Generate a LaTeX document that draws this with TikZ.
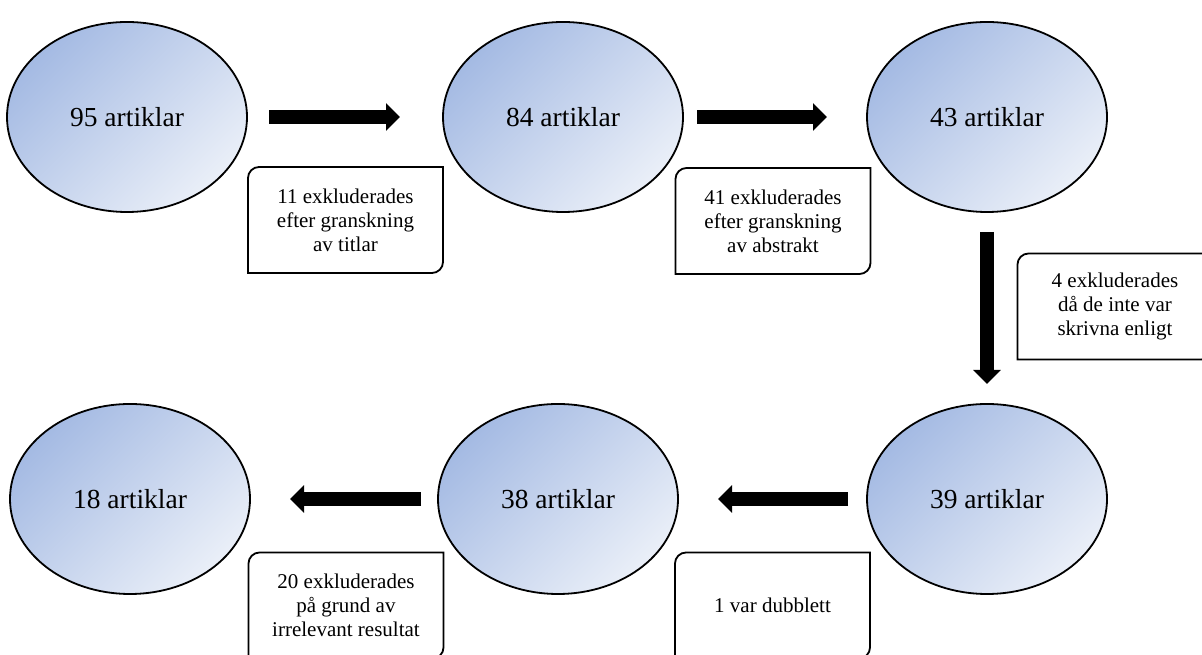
\documentclass[tikz,border=0pt]{standalone}
\usepackage{xcolor}
\usepackage{fontspec}
\setmainfont{Liberation Serif}
\usepackage{tikz}
\usetikzlibrary{arrows.meta, shapes.geometric}
\definecolor{ovaltop}{HTML}{A4BAE3}
\definecolor{ovalbot}{HTML}{EAEFF8}
\definecolor{inkline}{HTML}{000000}

\newcommand{\diagframe}[1]{%
  \draw[frameline] (#1.north east) -- ([yshift=11pt]#1.south east)
    arc[start angle=0, end angle=-90, radius=11pt] -- (#1.south west)
    -- ([yshift=-11pt]#1.north west)
    arc[start angle=180, end angle=90, radius=11pt] -- cycle;}

\begin{document}
\begin{tikzpicture}[
    x=1pt, y=1pt,
    oval/.style={ellipse, draw=inkline, line width=1.8pt, inner sep=0pt, outer sep=0pt,
                 minimum width=240pt, minimum height=190pt,
                 top color=ovaltop, bottom color=ovalbot, shading angle=45,
                 font=\fontsize{27.5}{30}\selectfont},
    excl/.style={inner sep=0pt, outer sep=0pt, align=center,
                 minimum width=195pt, minimum height=106pt,
                 font=\fontsize{21}{24}\selectfont},
    frameline/.style={draw=inkline, line width=1.8pt},
    blockarr/.style={-{Triangle[length=14pt, width=27pt]}, line width=14pt, inkline}
  ]
    \useasboundingbox (0,0) rectangle (1202,655);
    \clip (0,0) rectangle (1202,655);
    \node[oval] (e95) at (127,538) {95 artiklar};
    \node[oval] (e84) at (563,538) {84 artiklar};
    \node[oval] (e43) at (987,538) {43 artiklar};
    \node[oval] (e39) at (987,156) {39 artiklar};
    \node[oval] (e38) at (558,156) {38 artiklar};
    \node[oval] (e18) at (130,156) {18 artiklar};
    \node[excl] (x11) at (345.5,435) {11 exkluderades\\ efter granskning\\ av titlar};
    \node[excl] (x41) at (773,434) {41 exkluderades\\ efter granskning\\ av abstrakt};
    \node[excl] (x4) at (1115,348.5) {4 exkluderades\\ då de inte var\\ skrivna enligt};
    \node[excl] (x1) at (772.5,49.5) {1 var dubblett};
    \node[excl] (x20) at (346,49.5) {20 exkluderades\\ på grund av\\ irrelevant resultat};
    \diagframe{x11} \diagframe{x41} \diagframe{x4} \diagframe{x1} \diagframe{x20}
    \draw[blockarr, shorten <=22pt, shorten >=43pt] (e95) -- (e84);
    \draw[blockarr, shorten <=14pt, shorten >=40pt] (e84) -- (e43);
    \draw[blockarr, shorten <=20pt, shorten >=20pt] (e43) -- (e39);
    \draw[blockarr, shorten <=19pt, shorten >=40pt] (e39) -- (e38);
    \draw[blockarr, shorten <=17pt, shorten >=40pt] (e38) -- (e18);
  \end{tikzpicture}
\end{document}
